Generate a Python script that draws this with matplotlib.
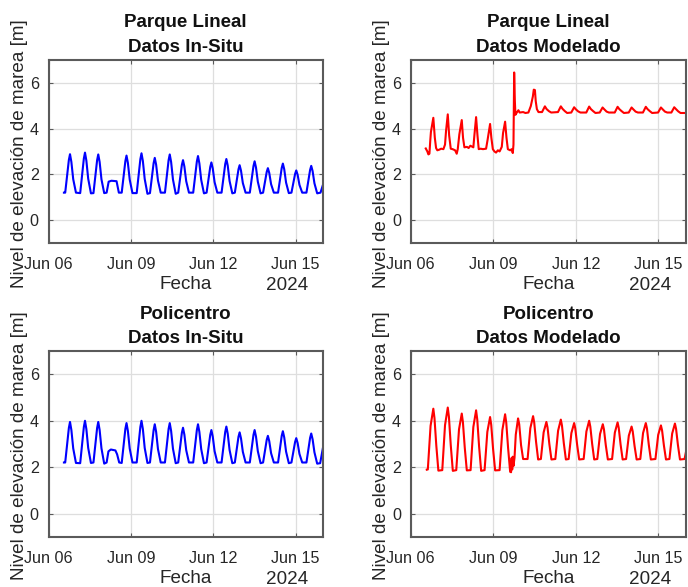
import numpy as np
import matplotlib
matplotlib.use("Agg")
import matplotlib.pyplot as plt
import matplotlib.dates as mdates

plt.rcParams['font.family'] = ['Liberation Sans', 'DejaVu Sans']

# horas desde 2024-06-06 00:00 y nivel [m] (vertices)
pl_insitu_h = [13.5,
               14.6, 17.8, 18.8, 20.0, 21.6, 24.0,
               27.7, 30.9, 31.9, 33.1, 34.7, 37.1,
               39.3, 42.5, 43.5, 44.7, 46.3, 48.7,
               50.8, 52.6, 55.0, 59.5, 61.5,
               64.0, 67.2, 68.2, 69.4, 71.0, 73.4,
               77.1, 80.3, 81.3, 82.5, 84.1, 86.5,
               88.7, 91.9, 92.9, 94.1, 95.7, 98.1,
               101.8, 105.0, 106.0, 107.2, 108.8, 111.2,
               113.4, 116.6, 117.6, 118.8, 120.4, 122.8,
               126.5, 129.7, 130.7, 131.9, 133.5, 135.9,
               138.2, 141.4, 142.4, 143.6, 145.2, 147.6,
               151.3, 154.5, 155.5, 156.7, 158.3, 160.7,
               162.9, 166.1, 167.1, 168.3, 169.9, 172.3,
               176.0, 179.2, 180.2, 181.4, 183.0, 185.4,
               187.6, 190.8, 191.8, 193.0, 194.6, 197.0,
               200.7, 203.9, 204.9, 206.1, 207.7, 210.1,
               212.4, 215.6, 216.6, 217.8, 219.4, 221.8,
               225.5, 228.7, 229.7, 230.9, 232.5, 234.9,
               237.8, 240.0]
pl_insitu_v = [1.20,
               1.20, 2.63, 2.88, 2.54, 1.79, 1.20,
               1.18, 2.69, 2.95, 2.60, 1.81, 1.17,
               1.18, 2.62, 2.87, 2.54, 1.78, 1.18,
               1.20, 1.68, 1.72, 1.70, 1.20,
               1.20, 2.58, 2.82, 2.50, 1.77, 1.18,
               1.18, 2.66, 2.92, 2.58, 1.80, 1.15,
               1.18, 2.49, 2.72, 2.42, 1.73, 1.20,
               1.20, 2.62, 2.87, 2.54, 1.78, 1.15,
               1.20, 2.41, 2.62, 2.34, 1.70, 1.20,
               1.20, 2.56, 2.80, 2.48, 1.76, 1.17,
               1.20, 2.32, 2.52, 2.26, 1.66, 1.20,
               1.20, 2.45, 2.67, 2.38, 1.71, 1.17,
               1.20, 2.22, 2.40, 2.16, 1.62, 1.20,
               1.20, 2.36, 2.57, 2.30, 1.68, 1.17,
               1.20, 2.11, 2.27, 2.06, 1.57, 1.20,
               1.20, 2.28, 2.47, 2.22, 1.64, 1.18,
               1.20, 2.02, 2.17, 1.98, 1.54, 1.20,
               1.20, 2.19, 2.37, 2.14, 1.61, 1.17,
               1.20, 1.55]

pl_model_h = [13.1, 14.5, 15.4, 16.3, 17.0, 17.6, 19.7, 21.0, 22.1, 23.2, 25.0, 26.5,
              28.5, 29.9, 30.8, 32.3, 33.5, 34.9, 36.5, 38.7, 40.1, 41.0,
              42.4, 44.5, 45.6, 46.8, 49.0, 50.5, 52.0, 54.6,
              55.5, 57.0, 58.2, 59.3, 61.0, 63.0, 65.7,
              67.0, 69.2, 70.3, 71.6, 73.0, 74.4, 76.0, 77.5, 79.4,
              80.5, 82.3, 83.5, 84.7, 86.7, 88.0, 89.0, 89.6, 90.2, 90.8, 91.3,
              92.5, 93.9, 95.0, 98.0, 100.0, 102.6, 104.7, 106.5, 107.3, 108.3,
              109.0, 110.0, 111.4,
              114.5, 117.0, 118.5, 120.5, 122.5,
              128.4, 130.9, 132.4, 134.4, 136.4,
              140.0, 142.5, 144.0, 146.0, 148.0,
              153.1, 155.6, 157.1, 159.1, 161.1,
              164.8, 167.3, 168.8, 170.8, 172.8,
              177.9, 180.4, 181.9, 183.9, 185.9,
              190.1, 192.6, 194.1, 196.1, 198.1,
              202.5, 205.0, 206.5, 208.5, 210.5,
              215.7, 218.2, 219.7, 221.7, 223.7,
              227.3, 229.8, 231.3, 233.3, 235.3,
              240.0]
pl_model_v = [3.13, 3.00, 2.87, 2.90, 3.45, 3.85, 4.47, 3.60, 3.15, 3.05, 3.08, 3.12,
              3.10, 3.30, 3.90, 4.62, 3.70, 3.12, 3.10, 3.05, 2.90, 3.10,
              3.75, 4.37, 3.60, 3.18, 3.20, 3.15, 3.25, 3.18,
              3.70, 4.50, 3.70, 3.10, 3.12, 3.10, 3.12,
              3.50, 4.20, 3.60, 3.10, 3.00, 2.95, 3.05, 3.00, 3.20,
              3.80, 4.30, 3.60, 3.10, 3.05, 3.10, 2.93, 3.30, 6.45, 5.20, 4.60,
              4.70, 4.80, 4.70, 4.72, 4.68, 4.70, 4.98, 5.40, 5.70, 5.68,
              5.20, 4.85, 4.72,
              4.72, 4.97, 4.85, 4.76, 4.70,
              4.72, 4.97, 4.86, 4.76, 4.68,
              4.70, 4.93, 4.84, 4.75, 4.70,
              4.70, 4.96, 4.85, 4.76, 4.68,
              4.70, 4.92, 4.84, 4.74, 4.70,
              4.70, 4.95, 4.85, 4.76, 4.68,
              4.70, 4.92, 4.84, 4.74, 4.70,
              4.70, 4.95, 4.85, 4.76, 4.68,
              4.70, 4.92, 4.84, 4.74, 4.70,
              4.70, 4.93, 4.85, 4.75, 4.68,
              4.68]

po_insitu_h = [13.5,
               14.6, 17.8, 18.8, 20.0, 21.6, 24.0,
               27.7, 30.9, 31.9, 33.1, 34.7, 37.1,
               39.3, 42.5, 43.5, 44.7, 46.3, 48.7,
               50.8, 52.4, 54.5, 58.5, 60.0, 61.8,
               64.0, 67.2, 68.2, 69.4, 71.0, 73.4,
               77.1, 80.3, 81.3, 82.5, 84.1, 86.5,
               88.7, 91.9, 92.9, 94.1, 95.7, 98.1,
               101.8, 105.0, 106.0, 107.2, 108.8, 111.2,
               113.4, 116.6, 117.6, 118.8, 120.4, 122.8,
               126.5, 129.7, 130.7, 131.9, 133.5, 135.9,
               138.2, 141.4, 142.4, 143.6, 145.2, 147.6,
               151.3, 154.5, 155.5, 156.7, 158.3, 160.7,
               162.9, 166.1, 167.1, 168.3, 169.9, 172.3,
               176.0, 179.2, 180.2, 181.4, 183.0, 185.4,
               187.6, 190.8, 191.8, 193.0, 194.6, 197.0,
               200.7, 203.9, 204.9, 206.1, 207.7, 210.1,
               212.4, 215.6, 216.6, 217.8, 219.4, 221.8,
               225.5, 228.7, 229.7, 230.9, 232.5, 234.9,
               237.5, 240.0]
po_insitu_v = [2.20,
               2.20, 3.69, 3.95, 3.60, 2.81, 2.18,
               2.17, 3.73, 4.00, 3.64, 2.83, 2.18,
               2.20, 3.69, 3.95, 3.60, 2.81, 2.15,
               2.20, 2.68, 2.76, 2.72, 2.55, 2.20,
               2.18, 3.65, 3.90, 3.56, 2.80, 2.20,
               2.20, 3.73, 4.00, 3.64, 2.83, 2.18,
               2.20, 3.60, 3.85, 3.52, 2.78, 2.20,
               2.20, 3.65, 3.90, 3.56, 2.80, 2.17,
               2.20, 3.48, 3.70, 3.40, 2.73, 2.20,
               2.20, 3.60, 3.85, 3.52, 2.78, 2.17,
               2.20, 3.39, 3.60, 3.32, 2.69, 2.20,
               2.20, 3.52, 3.75, 3.44, 2.74, 2.17,
               2.20, 3.31, 3.50, 3.24, 2.66, 2.20,
               2.20, 3.39, 3.60, 3.32, 2.69, 2.17,
               2.20, 3.18, 3.35, 3.12, 2.60, 2.20,
               2.20, 3.35, 3.55, 3.28, 2.67, 2.17,
               2.20, 3.09, 3.25, 3.04, 2.57, 2.20,
               2.20, 3.26, 3.45, 3.20, 2.64, 2.15,
               2.17, 2.85]

po_model_h = [14.0,
              14.9, 17.3, 19.7, 20.7, 22.3, 24.1,
              27.5, 29.9, 32.3, 33.3, 34.9, 36.7,
              39.7, 42.1, 44.5, 45.5, 47.1, 48.9,
              52.2, 54.6, 57.0, 58.0, 59.6, 61.4,
              64.4, 66.8, 69.2, 70.2, 71.8, 73.6,
              77.5, 79.9, 82.3, 83.3, 84.9, 86.7, 87.5,
              88.0, 88.5, 89.0, 89.6,
              90.5, 91.6, 93.6, 94.6, 96.2, 98.0,
              101.9, 104.3, 106.7, 107.7, 109.3, 111.1,
              113.5, 115.9, 118.3, 119.3, 120.9, 122.7,
              126.1, 128.5, 130.9, 131.9, 133.5, 135.3,
              137.7, 140.1, 142.5, 143.5, 145.1, 146.9,
              150.8, 153.2, 155.6, 156.6, 158.2, 160.0,
              162.7, 165.1, 167.5, 168.5, 170.1, 171.9,
              175.6, 178.0, 180.4, 181.4, 183.0, 184.8,
              187.8, 190.2, 192.6, 193.6, 195.2, 197.0,
              200.2, 202.6, 205.0, 206.0, 207.6, 209.4,
              213.4, 215.8, 218.2, 219.2, 220.8, 222.6,
              225.6, 228.0, 230.4, 231.4, 233.0, 234.8,
              238.8, 240.0]
po_model_v = [1.89,
              1.90, 3.78, 4.52, 4.12, 2.93, 1.85,
              1.87, 3.81, 4.57, 4.17, 2.95, 1.84,
              1.87, 3.63, 4.31, 3.94, 2.85, 1.86,
              1.87, 3.73, 4.45, 4.06, 2.90, 1.84,
              1.87, 3.52, 4.16, 3.82, 2.79, 1.86,
              1.87, 3.60, 4.28, 3.92, 2.83, 1.80, 1.78,
              2.40, 1.90, 2.45, 2.05,
              2.40, 3.40, 4.10, 3.85, 2.95, 2.35,
              2.35, 3.68, 4.20, 3.92, 3.09, 2.33,
              2.35, 3.50, 3.95, 3.71, 2.99, 2.33,
              2.35, 3.57, 4.05, 3.79, 3.03, 2.33,
              2.35, 3.47, 3.90, 3.67, 2.97, 2.33,
              2.35, 3.54, 4.00, 3.75, 3.01, 2.33,
              2.35, 3.43, 3.85, 3.63, 2.95, 2.33,
              2.35, 3.49, 3.93, 3.69, 2.98, 2.33,
              2.35, 3.36, 3.75, 3.54, 2.91, 2.33,
              2.35, 3.47, 3.90, 3.67, 2.97, 2.33,
              2.35, 3.39, 3.80, 3.58, 2.93, 2.33,
              2.35, 3.45, 3.88, 3.65, 2.96, 2.33,
              2.35, 2.65]

paneles = [
    ("Parque Lineal\nDatos In-Situ", pl_insitu_h, pl_insitu_v, 'blue'),
    ("Parque Lineal\nDatos Modelado", pl_model_h, pl_model_v, 'red'),
    ("Policentro\nDatos In-Situ", po_insitu_h, po_insitu_v, 'blue'),
    ("Policentro\nDatos Modelado", po_model_h, po_model_v, 'red'),
]

posiciones = [
    [0.0705, 0.586, 0.399, 0.312],
    [0.597, 0.586, 0.400, 0.312],
    [0.0705, 0.0857, 0.399, 0.316],
    [0.597, 0.0857, 0.400, 0.316],
]

t0 = mdates.date2num(np.datetime64('2024-06-06T00:00'))
gris = '#262626'

fig = plt.figure(figsize=(6.88, 5.87), dpi=100)

for (titulo, horas, nivel, color), pos in zip(paneles, posiciones):
    ax = fig.add_axes(pos)
    x = t0 + np.array(horas) / 24.0
    ax.plot(x, nivel, color=color, linewidth=1.5)

    ax.set_xlim(t0, t0 + 10)
    ax.set_ylim(-1, 7)
    ax.set_yticks([0, 2, 4, 6])
    ax.set_xticks([t0, t0 + 3, t0 + 6, t0 + 9])
    ax.xaxis.set_major_formatter(mdates.DateFormatter('%b %d'))

    ax.grid(True, color='#dedede', linewidth=0.9)
    ax.set_axisbelow(True)
    for s in ax.spines.values():
        s.set_color('#5a5a5a')
        s.set_linewidth(1.5)
    ax.tick_params(direction='in', length=3, width=0.8, colors='#5a5a5a',
                   labelcolor=gris, labelsize=11.6, top=True, right=True)
    ax.tick_params(axis='x', pad=10)
    ax.tick_params(axis='y', pad=7)

    ax.set_title(titulo, fontsize=13.5, fontweight='bold', color='#111111',
                 linespacing=1.55, pad=6)
    ax.set_ylabel('Nivel de elevación de marea [m]', fontsize=13.6, color=gris)
    ax.yaxis.set_label_coords(-0.075, 0.49)
    ax.set_xlabel('Fecha', fontsize=13.6, color=gris)
    ax.xaxis.set_label_coords(0.5, -0.18)
    ax.text(0.869, -0.232, '2024', transform=ax.transAxes, fontsize=13.6,
            color=gris, ha='center', va='center')

fig.savefig('out.png', dpi=100)
